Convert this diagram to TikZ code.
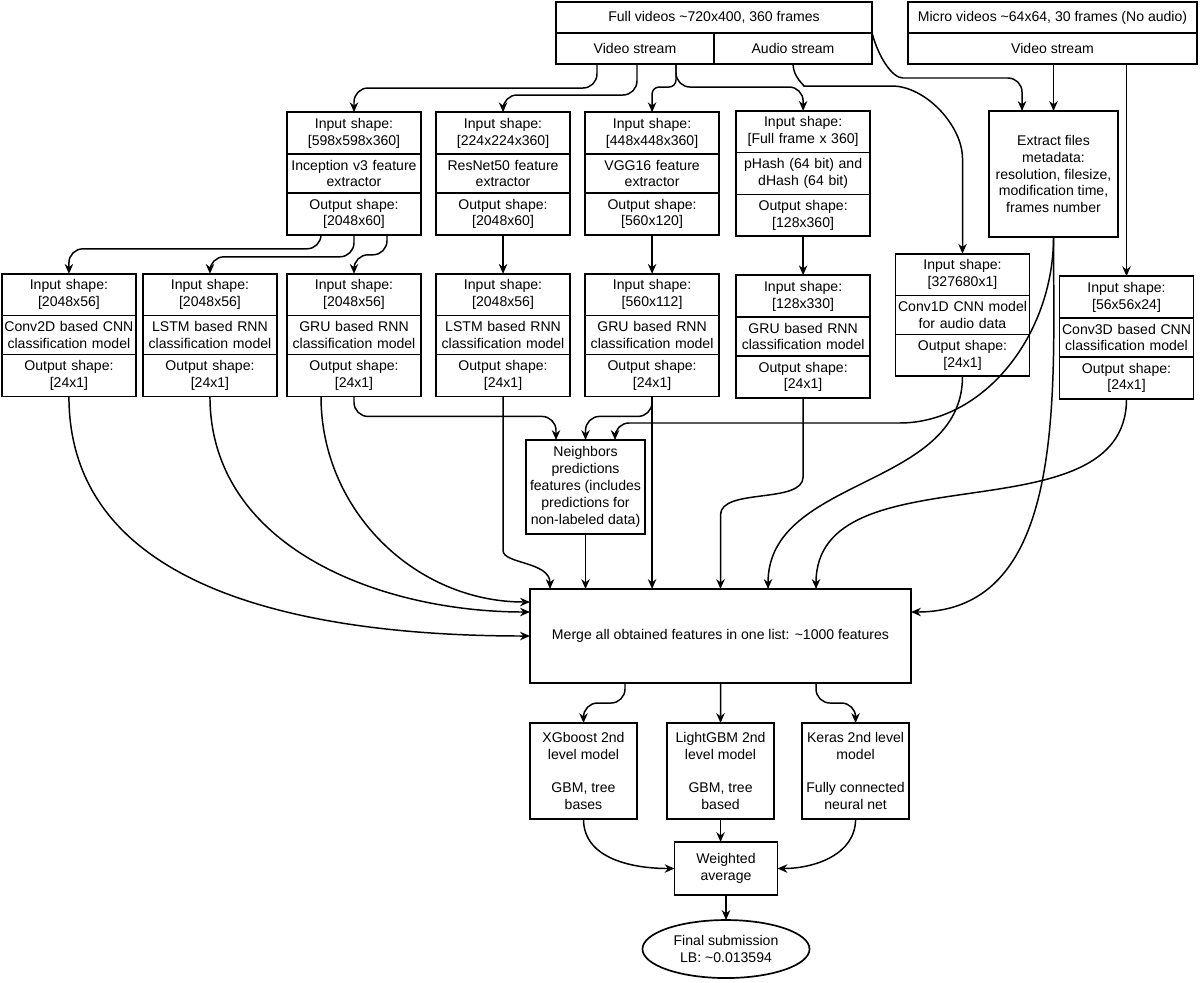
\documentclass[tikz,border=0pt]{standalone}
\usepackage{fontspec}
\setmainfont{Liberation Sans}
\usetikzlibrary{arrows.meta,positioning,shapes.geometric,shapes.multipart,calc}
\tikzset{
  headcell/.style={rectangle,draw,line width=1.2pt,minimum height=0.775cm,inner sep=0pt,outer sep=0pt},
  stagebox/.style={rectangle split,rectangle split parts=3,draw,line width=1.2pt,outer sep=0pt,
    text width=3.3cm,inner xsep=0.025cm,inner ysep=3.6pt,align=center},
  plainbox/.style={rectangle,draw,line width=1.2pt,align=center,inner sep=1pt,outer sep=0pt},
  finalbox/.style={ellipse,draw,line width=1.2pt,align=center,inner sep=0pt,outer sep=0pt,
    minimum width=4.175cm,minimum height=1.45cm},
  link/.style={-{Stealth[length=7pt,width=6pt]},line width=1.05pt,rounded corners=10pt}
}

\begin{document}
\begin{tikzpicture}[x=0.025cm,y=-0.025cm,node distance=0.375cm]
  \useasboundingbox (0,0) rectangle (1200,982);
  % sources
  \node[headcell, minimum width=7.9cm] (fullhead) at (714,17.5) {Full videos \textasciitilde720x400, 360 frames};
  \node[headcell, minimum width=3.95cm, anchor=north west] (vstream) at (fullhead.south west) {Video stream};
  \node[headcell, minimum width=3.95cm, anchor=north east] (astream) at (fullhead.south east) {Audio stream};
  \node[headcell, minimum width=7.225cm] (microhead) at (1052.5,17.5) {Micro videos \textasciitilde64x64, 30 frames (No audio)};
  \node[headcell, minimum width=7.225cm, anchor=north] (mstream) at (microhead.south) {Video stream};

  % feature extractors
  \node[stagebox] (inc) at (354,173.5) {Input shape:\\{[598x598x360]}
    \nodepart{two}Inception v3 feature\\extractor
    \nodepart{three}Output shape:\\{[2048x60]}};
  \node[stagebox, right=of inc] (res) {Input shape:\\{[224x224x360]}
    \nodepart{two}ResNet50 feature\\extractor
    \nodepart{three}Output shape:\\{[2048x60]}};
  \node[stagebox, right=of res] (vgg) {Input shape:\\{[448x448x360]}
    \nodepart{two}VGG16 feature\\extractor
    \nodepart{three}Output shape:\\{[560x120]}};
  \node[stagebox, right=0.425cm of vgg] (phash) {Input shape:\\{[Full frame x 360]}
    \nodepart{two}pHash (64 bit) and\\dHash (64 bit)
    \nodepart{three}Output shape:\\{[128x360]}};
  \node[plainbox, minimum width=3.225cm, minimum height=3.15cm] (meta) at (1053.5,174)
    {Extract files\\metadata:\\resolution, filesize,\\modification time,\\frames number};

  % classifiers
  \node[stagebox, below=0.975cm of inc] (gru) {Input shape:\\{[2048x56]}
    \nodepart{two}GRU based RNN\\classification model
    \nodepart{three}Output shape:\\{[24x1]}};
  \node[stagebox, left=0.25cm of gru] (lstm) {Input shape:\\{[2048x56]}
    \nodepart{two}LSTM based RNN\\classification model
    \nodepart{three}Output shape:\\{[24x1]}};
  \node[stagebox, left=0.175cm of lstm] (conv2d) {Input shape:\\{[2048x56]}
    \nodepart{two}Conv2D based CNN\\classification model
    \nodepart{three}Output shape:\\{[24x1]}};
  \node[stagebox, below=0.975cm of res] (lstm2) {Input shape:\\{[2048x56]}
    \nodepart{two}LSTM based RNN\\classification model
    \nodepart{three}Output shape:\\{[24x1]}};
  \node[stagebox, below=0.975cm of vgg] (gru2) {Input shape:\\{[560x112]}
    \nodepart{two}GRU based RNN\\classification model
    \nodepart{three}Output shape:\\{[24x1]}};
  \node[stagebox, below=0.975cm of phash] (gru3) {Input shape:\\{[128x330]}
    \nodepart{two}GRU based RNN\\classification model
    \nodepart{three}Output shape:\\{[24x1]}};
  \node[stagebox] (conv1d) at (962.5,315) {Input shape:\\{[327680x1]}
    \nodepart{two}Conv1D CNN model\\for audio data
    \nodepart{three}Output shape:\\{[24x1]}};
  \node[stagebox] (conv3d) at (1126.5,337.5) {Input shape:\\{[56x56x24]}
    \nodepart{two}Conv3D based CNN\\classification model
    \nodepart{three}Output shape:\\{[24x1]}};

  % merging and second level
  \node[plainbox, minimum width=2.975cm, minimum height=2.35cm] (neigh) at (585.5,487)
    {Neighbors\\predictions\\features (includes\\predictions for\\non-labeled data)};
  \node[plainbox, minimum width=9.525cm, minimum height=2.35cm] (merge) at (720.5,636)
    {Merge all obtained features in one list: \textasciitilde1000 features};
  \node[plainbox, minimum width=2.675cm, minimum height=2.4cm] (xgb) at (583.5,771)
    {XGboost 2nd\\level model\\[12pt]GBM, tree\\bases};
  \node[plainbox, minimum width=2.675cm, minimum height=2.4cm, right=0.75cm of xgb] (lgb)
    {LightGBM 2nd\\level model\\[12pt]GBM, tree\\based};
  \node[plainbox, minimum width=2.675cm, minimum height=2.4cm, right=0.7cm of lgb] (keras)
    {Keras 2nd level\\model\\[12pt]Fully connected\\neural net};
  \node[plainbox, minimum width=2.575cm, minimum height=1.325cm] (wavg) at (726,868.5) {Weighted\\average};
  \node[finalbox, below=0.625cm of wavg] (final) {Final submission\\LB: \textasciitilde0.013594};

  % video stream into the extractors
  \draw[link] ($(vstream.south)+(-38,0)$) -- ++(0,24) -| (inc.north);
  \draw[link] ($(vstream.south)+(2,0)$) -- ++(0,31) -| (res.north);
  \draw[link, rounded corners=5pt] ($(vstream.south)+(41,0)$) -- ++(0,23) -| (vgg.north);
  \draw[link] ($(vstream.south)+(41,0)$) -- ++(0,23) -| (phash.north);
  \draw[link] (astream.south) to[out=-90,in=180] ++(25,22) -- ++(60,0)
    to[out=0,in=90] ($(conv1d.north)+(0,-81)$) -- (conv1d.north);
  \draw[link] (fullhead.south east) to[out=-75,in=180] ++(45,45) -| ($(meta.north)+(-31.5,0)$);
  \draw[link] (meta.north |- mstream.south) -- (meta.north);
  \draw[link] (conv3d.north |- mstream.south) -- (conv3d.north);

  % extractors into the classifiers
  \draw[link] ($(inc.south)+(-33,0)$) -- ++(0,14) -| (conv2d.north);
  \draw[link] (inc.south) -- ++(0,22) -| (lstm.north);
  \draw[link] ($(inc.south)+(33,0)$) -- ++(0,20) -| (gru.north);
  \draw[link] (res) -- (lstm2);
  \draw[link] (vgg) -- (gru2);
  \draw[link] (phash) -- (gru3);

  % classifiers into neighbors and merge
  \draw[link] (conv2d.south) to[out=-90,in=180] (merge.west);
  \draw[link] (lstm.south) to[out=-90,in=180] ($(merge.west)+(0,-24)$);
  \draw[link] ($(gru.south)+(-33,0)$) to[out=-90,in=180] ($(merge.west)+(0,-34)$);
  \draw[link] (gru.south) -- ++(0,20) -| ($(neigh.north)+(-29.5,0)$);
  \draw[link] (lstm2.south) -- ++(0,140) to[out=-90,in=90] ($(merge.north)+(-170.5,0)$);
  \draw[link] (gru2.south) -- ++(0,20) -| (neigh.north);
  \draw[link] (gru2) -- (gru2.south |- merge.north);
  \draw[link] (neigh) -- (neigh.south |- merge.north);
  \draw[link] (gru3.south) -- ++(0,65) to[out=-90,in=90] ($(merge.north)+(0,-60)$) -- (merge.north);
  \draw[link] (conv1d.south) to[out=-90,in=90] ($(merge.north)+(47.5,0)$);
  \draw[link] (conv3d.south) to[out=-90,in=90] ($(merge.north)+(95.5,0)$);
  \draw[link] (meta.south) to[out=-90,in=0] ($(neigh.north)+(300,-17)$) -| ($(neigh.north)+(29.5,0)$);
  \draw[link] (meta.south) to[out=-90,in=0] ($(merge.east)+(0,-24)$);

  % second level and blending
  \draw[link] ($(merge.south)+(-95.5,0)$) -- ++(0,20) -| (xgb.north);
  \draw[link] (merge) -- (lgb);
  \draw[link] ($(merge.south)+(95.5,0)$) -- ++(0,20) -| (keras.north);
  \draw[link] (xgb.south) to[out=-90,in=180] (wavg.west);
  \draw[link] (lgb.south) -- (lgb.south |- wavg.north);
  \draw[link] (keras.south) to[out=-90,in=0] (wavg.east);
  \draw[link] (wavg) -- (final);
\end{tikzpicture}
\end{document}
